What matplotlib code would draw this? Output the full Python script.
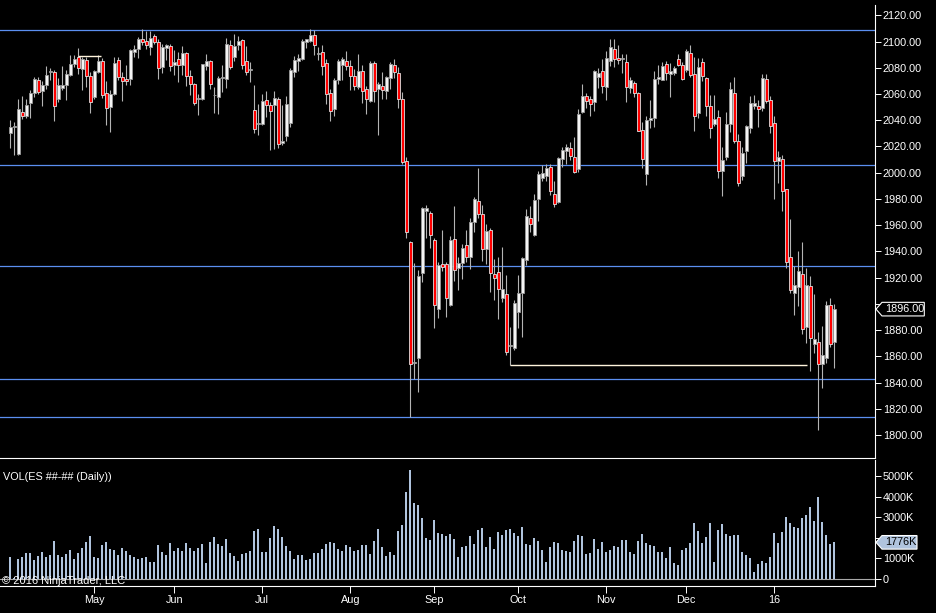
import numpy as np
import matplotlib
matplotlib.use("Agg")
import matplotlib.pyplot as plt
from matplotlib.patches import Polygon
from matplotlib.transforms import blended_transform_factory

# ES daily bars, Apr 2015 - Jan 2016
opens = [
    2030.1, 2035.0, 2014.3, 2046.2, 2043.1, 2053.3, 2060.7, 2070.9, 2062.2, 2066.5,
    2076.5, 2076.5, 2056.1, 2064.5, 2066.5, 2074.2, 2082.6, 2088.2, 2079.0, 2086.2,
    2073.4, 2057.6, 2076.7, 2084.9, 2060.9, 2050.0, 2059.7, 2085.7, 2072.9, 2071.6,
    2071.6, 2092.0, 2094.6, 2102.2, 2100.2, 2095.8, 2104.2, 2099.7, 2080.6, 2095.0,
    2096.6, 2082.3, 2086.4, 2081.8, 2091.5, 2073.7, 2067.3, 2055.9, 2056.4, 2081.3,
    2084.9, 2058.9, 2057.6, 2072.4, 2071.1, 2097.6, 2088.2, 2097.6, 2100.9, 2084.9,
    2078.5, 2047.5, 2037.3, 2037.3, 2055.1, 2051.8, 2051.3, 2056.4, 2022.7, 2028.3,
    2038.0, 2076.7, 2085.4, 2086.4, 2099.7, 2100.2, 2104.8, 2090.7, 2092.0, 2083.9,
    2060.7, 2048.7, 2070.4, 2082.3, 2084.9, 2081.3, 2073.4, 2065.3, 2077.3, 2063.5,
    2054.6, 2083.9, 2064.0, 2065.8, 2062.2, 2072.4, 2081.8, 2076.2, 2056.4, 2009.2,
    1947.3, 1855.1, 1858.4, 1923.9, 1970.5, 1969.2, 1948.9, 1896.4, 1930.3, 1930.3,
    1899.2, 1949.4, 1927.0, 1931.5, 1944.8, 1935.4, 1962.1, 1978.6, 1968.5, 1941.7,
    1956.5, 1922.6, 1924.4, 1904.8, 1907.3, 1867.9, 1866.6, 1893.8, 1908.6, 1933.3,
    1965.4, 1952.7, 1979.9, 1996.0, 1997.2, 2004.6, 1983.7, 1977.4, 2010.5, 2016.8,
    2018.9, 2012.3, 2002.8, 2046.1, 2058.1, 2056.3, 2053.8, 2072.9, 2077.2, 2065.2,
    2085.1, 2094.5, 2087.7, 2086.4, 2084.4, 2064.7, 2068.6, 2060.9, 2032.6, 1998.9,
    2040.3, 2041.8, 2071.6, 2070.9, 2082.5, 2075.4, 2075.9, 2086.9, 2081.8, 2078.0,
    2091.5, 2075.4, 2045.6, 2084.3, 2072.1, 2051.2, 2037.2, 2042.8, 2001.1, 2012.3,
    2037.2, 2060.9, 2024.0, 1997.2, 2016.3, 2034.2, 2050.7, 2051.2, 2049.5, 2071.6,
    2055.8, 2038.0, 2008.7, 2010.5, 1987.6, 1936.1, 1908.6, 1912.9, 1922.6, 1882.4,
    1913.4, 1869.6, 1871.2, 1854.4, 1858.4, 1899.2, 1871.2,
]
highs = [
    2040.3, 2038.5, 2055.9, 2058.4, 2055.9, 2062.7, 2072.9, 2072.9, 2069.6, 2081.1,
    2080.0, 2078.0, 2072.4, 2081.1, 2078.5, 2090.0, 2090.0, 2095.3, 2088.2, 2088.2,
    2076.7, 2078.0, 2090.0, 2087.4, 2069.6, 2062.7, 2088.2, 2088.2, 2076.7, 2081.9,
    2094.6, 2097.6, 2103.5, 2109.3, 2107.8, 2107.8, 2106.0, 2102.2, 2097.9, 2098.4,
    2098.4, 2093.3, 2092.0, 2096.4, 2092.0, 2078.0, 2068.6, 2060.2, 2083.1, 2090.2,
    2085.7, 2065.3, 2073.4, 2081.9, 2102.7, 2100.9, 2105.5, 2104.0, 2102.2, 2096.4,
    2084.4, 2066.5, 2052.0, 2060.2, 2062.0, 2053.8, 2062.2, 2057.6, 2051.3, 2058.1,
    2079.8, 2089.0, 2090.7, 2102.2, 2102.2, 2109.3, 2109.1, 2095.8, 2097.1, 2086.9,
    2064.0, 2072.1, 2086.9, 2088.2, 2092.5, 2085.7, 2079.3, 2090.2, 2082.3, 2066.0,
    2084.9, 2084.9, 2069.1, 2076.7, 2073.4, 2084.4, 2086.9, 2080.6, 2061.4, 2012.3,
    1948.1, 1931.0, 1926.0, 1973.6, 1975.6, 1971.0, 1950.1, 1932.0, 1956.5, 1932.0,
    1951.9, 1974.8, 1935.4, 1945.5, 1956.5, 1965.4, 1981.2, 2003.6, 1975.6, 1960.8,
    1957.5, 1934.1, 1935.9, 1943.5, 1922.1, 1882.4, 1903.0, 1921.9, 1935.9, 1972.3,
    1974.8, 1983.7, 2001.1, 2006.2, 2006.7, 2006.7, 1993.9, 2012.3, 2019.4, 2021.9,
    2023.7, 2027.0, 2048.2, 2067.3, 2060.7, 2058.1, 2078.5, 2080.0, 2086.9, 2092.7,
    2102.2, 2102.2, 2097.1, 2090.7, 2090.2, 2072.9, 2069.8, 2061.4, 2038.5, 2043.6,
    2055.8, 2077.2, 2081.8, 2084.3, 2085.1, 2083.8, 2081.0, 2090.7, 2084.3, 2094.5,
    2097.6, 2088.2, 2087.7, 2087.7, 2072.9, 2058.9, 2058.9, 2047.9, 2019.9, 2046.1,
    2069.1, 2072.9, 2029.6, 2019.9, 2036.7, 2058.1, 2059.6, 2055.1, 2074.9, 2074.9,
    2058.1, 2043.6, 2016.8, 2013.8, 1987.6, 1964.6, 1928.9, 1940.4, 1946.8, 1927.7,
    1921.3, 1907.8, 1878.8, 1883.1, 1902.2, 1904.3, 1899.7,
]
lows = [
    2018.7, 2013.6, 2013.6, 2041.1, 2041.6, 2041.6, 2057.6, 2060.2, 2050.5, 2064.0,
    2070.4, 2039.3, 2053.8, 2063.2, 2055.1, 2073.4, 2080.6, 2075.5, 2062.7, 2065.3,
    2045.4, 2055.9, 2076.0, 2056.9, 2036.5, 2031.4, 2058.9, 2070.9, 2054.3, 2067.1,
    2066.5, 2088.2, 2087.4, 2097.1, 2094.6, 2089.5, 2098.4, 2071.1, 2076.0, 2085.7,
    2077.3, 2074.2, 2069.1, 2074.2, 2066.1, 2058.9, 2051.3, 2044.1, 2055.1, 2078.0,
    2064.0, 2045.7, 2044.9, 2061.4, 2064.5, 2079.3, 2084.9, 2093.3, 2079.3, 2074.7,
    2069.1, 2030.1, 2029.1, 2036.0, 2042.4, 2017.6, 2018.1, 2018.7, 2021.2, 2024.5,
    2034.7, 2072.9, 2077.3, 2085.7, 2095.0, 2099.7, 2090.0, 2085.7, 2074.7, 2052.5,
    2039.8, 2043.6, 2067.8, 2070.4, 2078.0, 2062.7, 2062.7, 2064.0, 2053.0, 2044.4,
    2053.8, 2053.8, 2029.1, 2055.9, 2056.4, 2064.0, 2072.4, 2049.2, 2006.7, 1949.9,
    1813.6, 1842.4, 1833.0, 1916.8, 1949.9, 1942.5, 1881.3, 1889.5, 1925.2, 1890.3,
    1898.4, 1917.5, 1910.6, 1919.3, 1932.0, 1926.9, 1954.5, 1965.1, 1932.8, 1930.3,
    1909.1, 1902.8, 1888.7, 1901.5, 1860.7, 1853.1, 1864.6, 1881.9, 1875.0, 1929.8,
    1954.5, 1951.7, 1962.9, 1993.4, 1993.4, 1983.2, 1974.1, 1976.6, 2004.1, 2006.7,
    2010.0, 1999.5, 2000.3, 2045.4, 2049.2, 2043.1, 2047.4, 2064.7, 2060.9, 2055.8,
    2081.3, 2080.5, 2083.1, 2075.9, 2053.8, 2060.9, 2057.6, 2031.6, 2003.4, 1990.6,
    2034.2, 2034.7, 2067.3, 2070.3, 2070.3, 2057.6, 2074.2, 2081.0, 2070.3, 2076.7,
    2072.9, 2032.1, 2041.8, 2069.8, 2043.6, 2026.5, 2035.9, 1996.0, 1982.5, 2009.7,
    2030.9, 2022.4, 1990.1, 1994.7, 2007.2, 2030.1, 2048.7, 2034.7, 2046.9, 2053.0,
    2030.1, 1979.9, 1991.9, 1970.5, 1927.7, 1908.6, 1891.5, 1898.4, 1877.3, 1870.4,
    1848.7, 1862.8, 1803.9, 1836.0, 1855.1, 1867.1, 1850.8,
]
closes = [
    2035.2, 2035.2, 2048.7, 2043.1, 2051.3, 2060.9, 2071.1, 2061.5, 2066.5, 2074.7,
    2077.5, 2051.0, 2066.5, 2066.5, 2075.5, 2082.6, 2086.9, 2079.8, 2086.9, 2073.7,
    2053.8, 2077.3, 2084.9, 2059.4, 2049.5, 2059.7, 2083.9, 2072.9, 2069.9, 2069.9,
    2093.3, 2094.6, 2101.7, 2099.7, 2097.6, 2103.0, 2099.7, 2079.8, 2095.8, 2097.1,
    2081.3, 2084.4, 2082.3, 2091.5, 2073.7, 2067.3, 2053.0, 2055.9, 2082.6, 2084.9,
    2067.3, 2058.9, 2072.1, 2072.4, 2097.9, 2080.6, 2096.4, 2100.2, 2082.3, 2076.7,
    2078.5, 2033.4, 2037.3, 2054.3, 2051.8, 2046.9, 2057.1, 2022.0, 2024.5, 2052.0,
    2078.0, 2085.7, 2087.2, 2100.4, 2101.7, 2105.3, 2097.1, 2090.7, 2081.3, 2060.2,
    2046.9, 2070.4, 2084.9, 2086.9, 2081.3, 2073.7, 2066.0, 2077.3, 2062.2, 2055.9,
    2083.6, 2062.2, 2067.3, 2063.2, 2072.9, 2082.6, 2076.7, 2055.9, 2008.0, 1954.5,
    1853.8, 1855.1, 1921.4, 1972.8, 1972.8, 1952.4, 1898.9, 1929.5, 1928.2, 1904.3,
    1948.6, 1925.7, 1931.5, 1942.5, 1936.1, 1962.6, 1979.9, 1968.9, 1942.2, 1955.7,
    1923.9, 1920.1, 1911.1, 1911.1, 1863.5, 1867.9, 1900.5, 1908.6, 1934.9, 1966.9,
    1960.8, 1979.1, 1999.0, 1999.8, 2003.4, 1985.8, 1976.1, 2011.2, 2017.4, 2019.9,
    2012.5, 2000.3, 2044.9, 2058.1, 2054.5, 2052.5, 2077.5, 2075.9, 2066.0, 2087.7,
    2095.8, 2086.9, 2086.1, 2086.9, 2065.2, 2070.3, 2060.7, 2032.1, 2010.5, 2040.3,
    2041.6, 2071.6, 2072.9, 2081.0, 2075.9, 2077.2, 2080.0, 2082.3, 2071.6, 2092.7,
    2074.2, 2043.6, 2080.5, 2073.4, 2051.2, 2034.2, 2041.1, 2001.1, 2009.7, 2037.2,
    2064.0, 2024.5, 1991.9, 2015.1, 2035.9, 2053.3, 2052.8, 2048.4, 2072.4, 2054.3,
    2035.4, 2008.7, 2011.8, 1985.8, 1932.3, 1910.6, 1914.2, 1925.2, 1881.1, 1914.5,
    1874.2, 1872.9, 1854.4, 1861.0, 1899.2, 1869.6, 1896.0,
]
# daily volume in thousands of contracts
volume_k = [
    1060, 30, 960, 1060, 1250, 1250, 930, 1110, 1300, 1060,
    1160, 1840, 1160, 1060, 1210, 1400, 960, 1250, 1480, 1790,
    2080, 1060, 1030, 1640, 1790, 1450, 1400, 1160, 1500, 1370,
    1160, 1060, 960, 1010, 1060, 810, 810, 1640, 1300, 1160,
    1740, 1350, 1500, 1350, 1740, 1500, 1350, 1500, 1690, 770,
    1790, 2040, 1690, 1600, 1940, 1250, 1110, 860, 1210, 1250,
    1350, 2330, 2430, 1300, 1300, 1990, 2570, 2430, 2040, 1600,
    1350, 960, 1160, 1160, 930, 960, 1250, 1250, 1450, 1690,
    1790, 1740, 1450, 1350, 1640, 1550, 1350, 1400, 1640, 1640,
    1210, 1840, 2430, 1550, 1110, 1300, 1160, 2330, 2620, 4230,
    5310, 3700, 3600, 2960, 1990, 1890, 2870, 2230, 2180, 2080,
    2180, 1940, 1060, 1550, 1600, 2080, 1690, 2380, 2480, 1550,
    2040, 1450, 2280, 2130, 2380, 2430, 2230, 2080, 2520, 1690,
    1640, 1990, 1840, 1400, 810, 1550, 1790, 1740, 1400, 1350,
    1300, 1840, 2130, 2080, 1210, 1250, 1940, 1450, 1790, 1300,
    1400, 1600, 1550, 1890, 1890, 1300, 1210, 1840, 2180, 1740,
    1640, 1600, 1300, 1300, 1010, 1550, 770, 670, 1400, 1500,
    1740, 2720, 2330, 1740, 2040, 2720, 810, 2380, 2670, 2180,
    2080, 2130, 2130, 1300, 1160, 1010, 330, 720, 860, 770,
    1060, 2230, 1740, 2280, 3010, 2720, 2520, 2480, 2960, 3110,
    3500, 2820, 3990, 2770, 2130, 1690, 1776,
]

month_starts = [21, 41, 63, 85, 106, 127, 149, 169, 191]
month_labels = ["May", "Jun", "Jul", "Aug", "Sep", "Oct", "Nov", "Dec", "16"]

level_lines = [2109.1, 2005.9, 1928.8, 1842.4, 1813.4]
# user drawn lines: (from bar, to bar, price)
drawn_lines = [(17, 22.6, 2088.7), (125, 199.1, 1853.1)]

price_ticks = list(range(1800, 2121, 20))
volume_ticks = [0, 1000, 2000, 3000, 4000, 5000]

W, H = 936, 613
AXIS_X = 875.3   # pixel column of the right-hand scale
BAR_X0 = 10.3    # pixel column of the first bar
BAR_STEP = 4.0   # pixels per bar

BLUE = "#5B8FF0"
STEEL = "#B0C4DE"


def px_rect(x0, y0, x1, y1):
    return [x0 / W, 1 - y1 / H, (x1 - x0) / W, (y1 - y0) / H]


def style_axis(ax):
    ax.set_facecolor("black")
    for side in ["top", "left"]:
        ax.spines[side].set_visible(False)
    for side in ["right", "bottom"]:
        ax.spines[side].set_color("white")
        ax.spines[side].set_linewidth(0.8)
    ax.yaxis.tick_right()
    ax.tick_params(axis="y", colors="white", labelcolor="white", length=4.3,
                   width=0.7, pad=1.2, labelsize=7.8)
    ax.set_xlim(-BAR_X0 / BAR_STEP, (AXIS_X - BAR_X0) / BAR_STEP)


def px_per_unit(ax):
    y0, y1 = ax.get_ylim()
    return ax.get_position().height * H / (y1 - y0)


def tick_labels(ax, ticks, fmt, marker_value):
    # the scale hides a label that sits under the last-value marker
    ppu = px_per_unit(ax)
    return ["" if abs(t - marker_value) * ppu < 9 else fmt(t) for t in ticks]


def value_marker(ax, value, text, right_px, face, edge, text_color):
    # arrow-shaped last-value label on the right scale
    tr = blended_transform_factory(ax.transAxes, ax.transData)
    half = 6.8 / px_per_unit(ax)
    fx = lambda px: px / AXIS_X
    pts = [(fx(876.0), value), (fx(882.0), value + half), (fx(right_px), value + half),
           (fx(right_px), value - half), (fx(882.0), value - half)]
    ax.add_patch(Polygon(pts, closed=True, transform=tr, facecolor=face,
                         edgecolor=edge, lw=0.8, clip_on=False, zorder=10))
    ax.text(fx(885), value, text, transform=tr, va="center", ha="left",
            color=text_color, fontsize=7.8, clip_on=False, zorder=11)


def main():
    plt.rcParams["font.family"] = ["Liberation Sans", "DejaVu Sans"]

    o = np.array(opens)
    h = np.array(highs)
    l = np.array(lows)
    c = np.array(closes)
    v = np.array(volume_k)
    x = np.arange(len(o))

    fig = plt.figure(figsize=(W / 100, H / 100), dpi=100, facecolor="black")
    ax_p = fig.add_axes(px_rect(0, 5, AXIS_X, 457.5))
    ax_v = fig.add_axes(px_rect(0, 460, AXIS_X, 586))

    # price panel
    style_axis(ax_p)
    ax_p.set_ylim(1782.9, 2127.85)
    ax_p.set_yticks(price_ticks)
    ax_p.set_yticklabels(tick_labels(ax_p, price_ticks, lambda t: f"{t:.2f}", c[-1]))
    ax_p.set_xticks([])

    for lvl in level_lines:
        ax_p.axhline(lvl, color=BLUE, lw=0.9, zorder=1)
    for x0, x1, y in drawn_lines:
        ax_p.hlines(y, x0, x1, color="#FFF4DC", lw=1.0, zorder=4)

    up = c >= o
    bottom = np.minimum(o, c)
    height = np.maximum(np.abs(c - o), 0.7)
    ax_p.vlines(x, l, h, color="#B4B4B4", lw=0.8, zorder=2)
    ax_p.bar(x[up], height[up], bottom=bottom[up], width=0.72,
             color="#F4F4F4", edgecolor="#9A9A9A", lw=0.6, zorder=3)
    ax_p.bar(x[~up], height[~up], bottom=bottom[~up], width=0.72,
             color="#FF0000", edgecolor="#E2E2E2", lw=0.6, zorder=3)

    value_marker(ax_p, c[-1], f"{c[-1]:.2f}", 924.3, "black", "white", "white")

    # volume panel
    style_axis(ax_v)
    ax_v.set_ylim(-356, 5796)
    ax_v.set_yticks(volume_ticks)
    ax_v.set_yticklabels(tick_labels(ax_v, volume_ticks,
                                     lambda t: "0" if t == 0 else f"{t}K", v[-1]))
    ax_v.bar(x, v, width=0.55, color=STEEL, zorder=2)
    ax_v.axhline(0, color="#A8A8A8", lw=0.8, zorder=1)
    ax_v.set_xticks(month_starts)
    ax_v.set_xticklabels(month_labels)
    ax_v.tick_params(axis="x", colors="white", labelcolor="white", length=5,
                     width=0.7, pad=1.5, labelsize=7.8)

    value_marker(ax_v, v[-1], f"{v[-1]:.0f}K", 917.0, STEEL, "white", "black")

    fig.text(3.3 / W, 1 - 476.5 / H, "VOL(ES ##-## (Daily))", color="white",
             fontsize=7.8, va="center", ha="left")
    fig.text(1.5 / W, 1 - 580.5 / H, "\u00a9 2016 NinjaTrader, LLC", color="white",
             fontsize=8, va="center", ha="left")

    fig.savefig("out.png", dpi=100, facecolor="black")


if __name__ == "__main__":
    main()
